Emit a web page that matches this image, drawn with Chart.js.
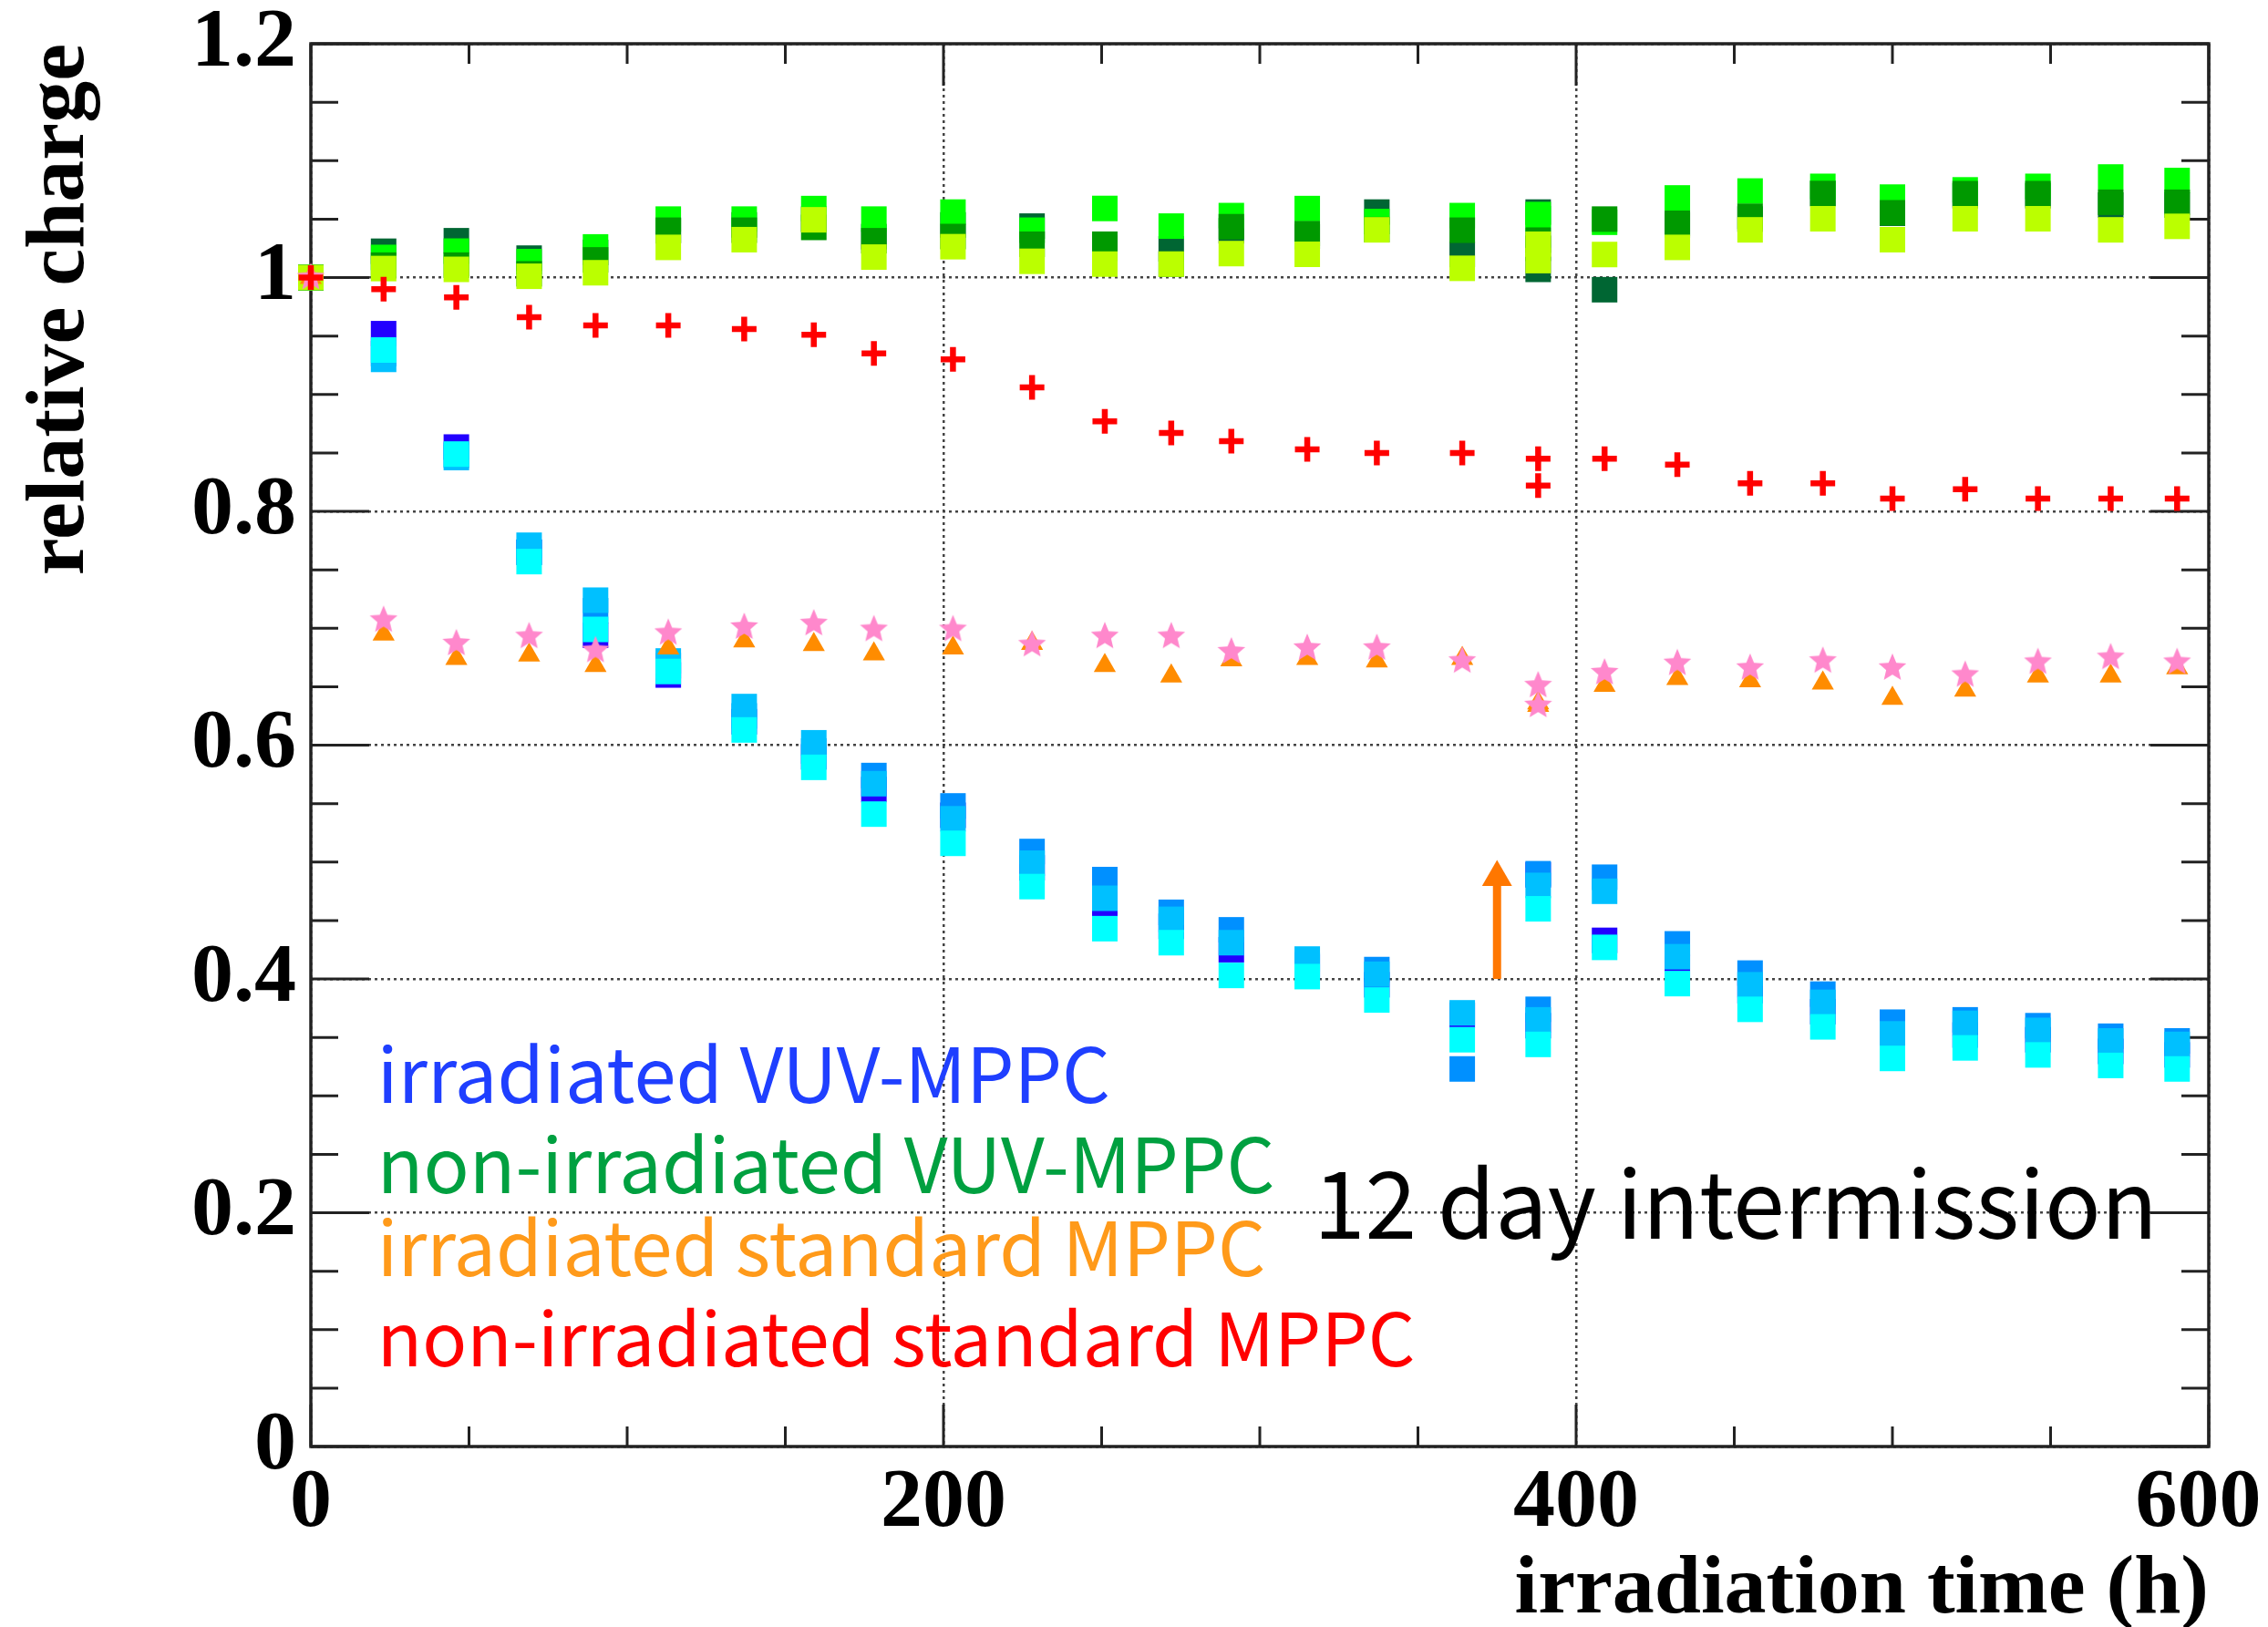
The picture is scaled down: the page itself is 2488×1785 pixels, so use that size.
<!DOCTYPE html>
<html>
<head>
<meta charset="utf-8">
<script src="https://cdn.jsdelivr.net/npm/chart.js@4.4.1/dist/chart.umd.min.js"></script>
<style>
  html, body { margin: 0; padding: 0; background: #fff; }
  canvas { display: block; }
</style>
</head>
<body>
<canvas id="chart" width="2488" height="1785"></canvas>
<script>
// irradiation time (h); 388 appears twice: before / after the 12 day break
const hours = [0, 23, 46, 69, 90, 113, 137, 159, 178, 203, 228, 251, 272, 291, 315, 337, 364, 388, 388, 409, 432, 455, 478, 500, 523, 546, 569, 590];

// non-irradiated standard MPPC (red crosses)
const stdNonIrr = [1.0, 0.990, 0.983, 0.966, 0.959, 0.959, 0.956, 0.951, 0.935, 0.930, 0.906, 0.877, 0.867, 0.860, 0.853, 0.850, 0.850, 0.845, 0.822, 0.845, 0.840, 0.824, 0.824, 0.811, 0.819, 0.811, 0.811, 0.811];

// irradiated standard MPPC, two channels (pink stars, orange triangles)
const stdIrrA = [1.0, 0.707, 0.687, 0.693, 0.681, 0.696, 0.701, 0.704, 0.699, 0.699, 0.686, 0.693, 0.693, 0.680, 0.683, 0.683, 0.672, 0.651, 0.634, 0.662, 0.670, 0.666, 0.672, 0.666, 0.660, 0.671, 0.675, 0.671];
const stdIrrB = [1.0, 0.695, 0.674, 0.677, 0.668, 0.683, 0.689, 0.686, 0.678, 0.683, 0.687, 0.668, 0.659, 0.673, 0.674, 0.672, 0.674, 0.634, 0.636, 0.651, 0.657, 0.655, 0.653, 0.640, 0.647, 0.659, 0.659, 0.666];

// irradiated VUV-MPPC, four channels
const vuvIrr1 = [1.0, 0.952, 0.855, 0.765, 0.694, 0.660, 0.620, 0.590, 0.562, 0.540, 0.495, 0.464, 0.445, 0.425, 0.410, 0.395, 0.369, 0.360, 0.489, 0.433, 0.410, 0.390, 0.372, 0.348, 0.352, 0.348, 0.338, 0.335];
const vuvIrr2 = [1.0, 0.935, 0.848, 0.765, 0.715, 0.668, 0.625, 0.595, 0.574, 0.548, 0.509, 0.485, 0.457, 0.442, 0.412, 0.408, 0.323, 0.374, 0.490, 0.487, 0.430, 0.405, 0.387, 0.363, 0.365, 0.360, 0.351, 0.347];
const vuvIrr3 = [1.0, 0.930, 0.846, 0.771, 0.724, 0.672, 0.633, 0.602, 0.567, 0.537, 0.499, 0.469, 0.451, 0.431, 0.417, 0.404, 0.371, 0.365, 0.480, 0.475, 0.419, 0.395, 0.380, 0.353, 0.362, 0.356, 0.347, 0.344];
const vuvIrr4 = [1.0, 0.938, 0.849, 0.757, 0.699, 0.663, 0.613, 0.581, 0.541, 0.516, 0.479, 0.443, 0.431, 0.403, 0.402, 0.382, 0.348, 0.344, 0.460, 0.427, 0.396, 0.374, 0.359, 0.332, 0.341, 0.335, 0.326, 0.323];

// non-irradiated VUV-MPPC, four channels
const vuvNon1 = [1.0, 1.0225, 1.0315, 1.0166, 1.0215, 1.040, 1.045, 1.050, 1.035, 1.045, 1.044, 1.025, 1.0245, 1.040, 1.035, 1.056, 1.0197, 1.007, 1.056, 0.9896, 1.045, 1.050, 1.072, 1.055, 1.070, 1.070, 1.062, 1.062];
const vuvNon2 = [1.0, 1.0172, 1.0226, 1.0136, 1.0262, 1.050, 1.050, 1.059, 1.050, 1.056, 1.0405, 1.0591, 1.044, 1.053, 1.059, 1.0479, 1.053, 1.0503, 1.0539, 1.0473, 1.0681, 1.074, 1.078, 1.0688, 1.075, 1.078, 1.086, 1.083];
const vuvNon3 = [1.0, 1.0106, 1.0106, 1.0032, 1.0151, 1.0405, 1.0405, 1.0429, 1.0315, 1.0351, 1.0285, 1.0285, 1.0115, 1.0435, 1.0375, 1.041, 1.0405, 1.025, 1.032, 1.050, 1.0464, 1.0524, 1.0719, 1.0554, 1.0718, 1.0718, 1.0644, 1.0644];
const vuvNon4 = [1.0, 1.0077, 1.0070, 1.0011, 1.0041, 1.0258, 1.0324, 1.0494, 1.0175, 1.0264, 1.0139, 1.0115, 1.0115, 1.0205, 1.0199, 1.0408, 1.0079, 1.0145, 1.0285, 1.0197, 1.0258, 1.0408, 1.0503, 1.0324, 1.0503, 1.0503, 1.0408, 1.0438];

// arrow marking the intermission
const arrowX = [375, 375];
const arrowY = [0.40, 0.487];

const noteText = ['irradiated VUV-MPPC', 'non-irradiated VUV-MPPC', 'irradiated standard MPPC', 'non-irradiated standard MPPC', '12 day intermission'];
const noteColor = ['#1f3fff', '#00a040', '#ff9a1a', '#ff0000', '#000000'];
const noteSize = [83, 83, 82, 81, 102];
const noteX = [21, 21, 21, 21, 317];
const noteY = [0.294, 0.217, 0.146, 0.069, 0.178];

const SERIF = '"Liberation Serif", "Times New Roman", serif';
const SANS = '"Noto Sans CJK JP", "Noto Sans", sans-serif';

function starImage(r, color) {
  const c = document.createElement('canvas');
  c.width = c.height = 2 * r + 2;
  const g = c.getContext('2d');
  g.fillStyle = color;
  g.beginPath();
  for (let i = 0; i < 10; i++) {
    const rr = i % 2 ? r * 0.45 : r;
    const a = -Math.PI / 2 + i * Math.PI / 5;
    g.lineTo(r + 1 + rr * Math.cos(a), r + 1 + rr * Math.sin(a));
  }
  g.closePath();
  g.fill();
  return c;
}

function markers(label, values, color, style, radius, order, border) {
  return {
    label,
    data: hours.map((h, i) => ({ x: h, y: values[i] })),
    showLine: false,
    pointStyle: style,
    pointRadius: radius,
    pointHoverRadius: radius,
    backgroundColor: color,
    borderColor: color,
    pointBorderWidth: border || 0,
    order,
    clip: false,
  };
}

const SQ = 19.8; // square half-diagonal -> 28px side

// frame with inward ROOT-style ticks on all four sides, plus the text notes
const frameTicks = {
  id: 'frameTicks',
  beforeDatasetsDraw(chart) {
    const { ctx, chartArea: a, scales: { x, y } } = chart;
    ctx.save();
    ctx.strokeStyle = '#222';
    ctx.lineWidth = 3;
    ctx.beginPath();
    for (let i = 0; i <= 24; i++) {
      const py = y.getPixelForValue(i * 0.05);
      const len = i % 4 === 0 ? 64 : 30;
      ctx.moveTo(a.left, py); ctx.lineTo(a.left + len, py);
      ctx.moveTo(a.right, py); ctx.lineTo(a.right - len, py);
    }
    for (let i = 0; i <= 12; i++) {
      const px = x.getPixelForValue(i * 50);
      const len = i % 4 === 0 ? 46 : 22;
      ctx.moveTo(px, a.bottom); ctx.lineTo(px, a.bottom - len);
      ctx.moveTo(px, a.top); ctx.lineTo(px, a.top + len);
    }
    ctx.stroke();
    ctx.lineWidth = 3.5;
    ctx.strokeRect(a.left, a.top, a.right - a.left, a.bottom - a.top);
    ctx.restore();
  },
  afterDatasetsDraw(chart) {
    const { ctx, scales: { x, y } } = chart;
    ctx.save();
    ctx.textBaseline = 'alphabetic';
    ctx.textAlign = 'left';
    noteText.forEach((t, i) => {
      ctx.font = noteSize[i] + 'px ' + SANS;
      ctx.fillStyle = noteColor[i];
      ctx.fillText(t, x.getPixelForValue(noteX[i]), y.getPixelForValue(noteY[i]));
    });
    ctx.restore();
  }
};

const gridDots = { display: false, dash: [3, 4] };

new Chart(document.getElementById('chart'), {
  type: 'scatter',
  data: {
    datasets: [
      markers('non-irradiated standard MPPC', stdNonIrr, '#ff0000', 'cross', 13.5, 0, 6.5),
      {
        label: 'intermission',
        data: arrowX.map((v, i) => ({ x: v, y: arrowY[i] })),
        showLine: true,
        borderColor: '#ff7700',
        backgroundColor: '#ff7700',
        borderWidth: 9,
        pointStyle: 'triangle',
        pointRadius: [0, 19],
        pointBorderWidth: 0,
        order: 1,
        clip: false,
      },
      markers('irradiated standard MPPC ch2', stdIrrA, '#ff88cc', starImage(16, '#ff88cc'), 16, 2),
      markers('irradiated standard MPPC ch1', stdIrrB, '#ff8c00', 'triangle', 14, 3),
      markers('non-irradiated VUV-MPPC ch4', vuvNon4, '#bbff00', 'rect', SQ, 4),
      markers('non-irradiated VUV-MPPC ch3', vuvNon3, '#009900', 'rect', SQ, 5),
      markers('non-irradiated VUV-MPPC ch2', vuvNon2, '#00ff00', 'rect', SQ, 6),
      markers('non-irradiated VUV-MPPC ch1', vuvNon1, '#006633', 'rect', SQ, 7),
      markers('irradiated VUV-MPPC ch4', vuvIrr4, '#00ffff', 'rect', SQ, 8),
      markers('irradiated VUV-MPPC ch3', vuvIrr3, '#00c0ff', 'rect', SQ, 9),
      markers('irradiated VUV-MPPC ch2', vuvIrr2, '#0090ff', 'rect', SQ, 10),
      markers('irradiated VUV-MPPC ch1', vuvIrr1, '#2200ff', 'rect', SQ, 11),
    ],
  },
  options: {
    responsive: false,
    animation: false,
    layout: { padding: { top: 48, right: 65, left: 0, bottom: 0 } },
    plugins: { legend: { display: false }, tooltip: { enabled: false } },
    scales: {
      x: {
        type: 'linear',
        min: 0,
        max: 600,
        ticks: {
          stepSize: 200,
          padding: 8,
          color: '#000',
          font: { family: SERIF, size: 92, weight: 'bold', lineHeight: 1.2 },
          callback: v => (v === 600 ? '600 ' : String(v)),
        },
        grid: { drawTicks: false, color: '#444', lineWidth: 2.5 },
        border: gridDots,
        title: {
          display: true,
          text: 'irradiation time (h)',
          align: 'end',
          color: '#000',
          padding: 0,
          font: { family: SERIF, size: 92, weight: 'bold', lineHeight: 0.86 },
        },
        afterFit(s) { s.height = 198; s.paddingLeft = 0; s.paddingRight = 0; },
      },
      y: {
        type: 'linear',
        min: 0,
        max: 1.2,
        ticks: {
          stepSize: 0.2,
          padding: 16,
          color: '#000',
          font: { family: SERIF, size: 92, weight: 'bold', lineHeight: 1.0 },
          callback: v => String(Number(v.toFixed(1))),
        },
        grid: { drawTicks: false, color: '#444', lineWidth: 2.5 },
        border: gridDots,
        title: {
          display: true,
          text: 'relative charge',
          align: 'end',
          color: '#000',
          padding: { top: 12, bottom: 0 },
          font: { family: SERIF, size: 92, weight: 'bold', lineHeight: 1.2 },
        },
        afterFit(s) { s.width = 341; s.paddingTop = 0; s.paddingBottom = 0; },
      },
    },
  },
  plugins: [frameTicks],
});
</script>
</body>
</html>
